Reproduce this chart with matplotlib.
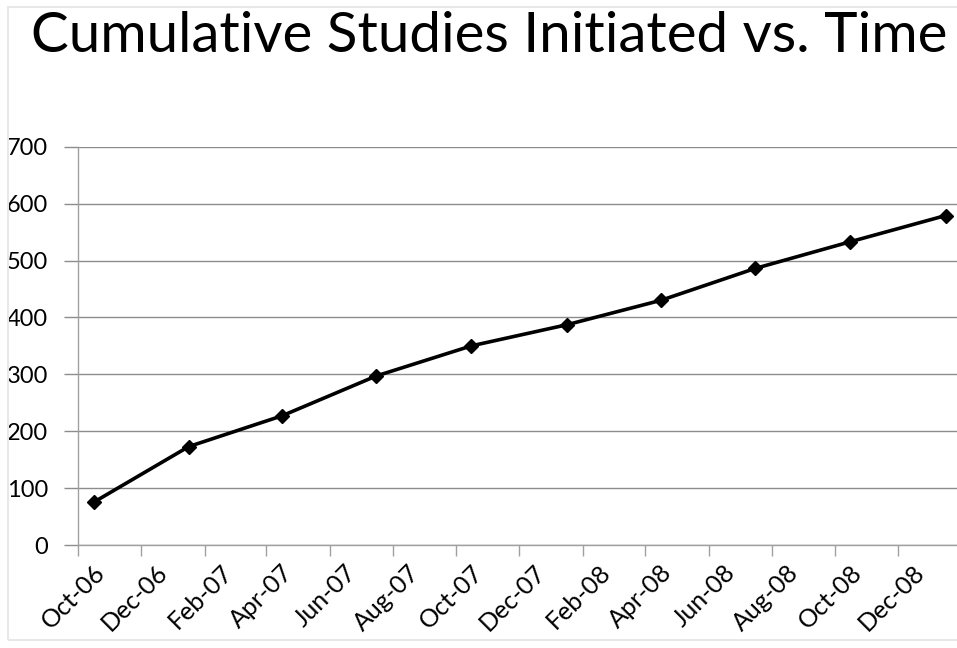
import datetime as dt
import matplotlib
matplotlib.use("Agg")
import matplotlib.pyplot as plt
import matplotlib.dates as mdates
import matplotlib.transforms as mtransforms
from matplotlib.patches import Rectangle

plt.rcParams['font.family'] = ['Lato', 'DejaVu Sans']

# quarterly data points (plotted mid-month, Excel date axis style)
dates = [dt.date(2006, 10, 16), dt.date(2007, 1, 16), dt.date(2007, 4, 16),
         dt.date(2007, 7, 16), dt.date(2007, 10, 16), dt.date(2008, 1, 16),
         dt.date(2008, 4, 16), dt.date(2008, 7, 16), dt.date(2008, 10, 16),
         dt.date(2009, 1, 16)]
studies = [75, 173, 227, 297, 350, 387, 430, 486, 533, 579]

fig = plt.figure(figsize=(9.57, 6.48), dpi=100)
ax = fig.add_axes([78 / 957, 1 - 545 / 648, 1 - 78 / 957, (545 - 146.7) / 648])

ax.plot(dates, studies, color='black', lw=2.6, marker='D', markersize=7.5,
        zorder=3, clip_on=False)

ax.set_ylim(0, 700)
ax.set_yticks(range(0, 701, 100))
ax.set_xlim(dt.date(2006, 10, 1), dt.date(2009, 1, 27))
ax.xaxis.set_major_locator(mdates.MonthLocator(bymonth=[2, 4, 6, 8, 10, 12]))
ax.xaxis.set_major_formatter(mdates.DateFormatter('%b-%y'))

ax.grid(axis='y', color='#8c8c8c', lw=1.0)
ax.set_axisbelow(True)
for s in ['top', 'right']:
    ax.spines[s].set_visible(False)
for s in ['left', 'bottom']:
    ax.spines[s].set_color('#a0a0a0')
    ax.spines[s].set_linewidth(1.0)

ax.tick_params(axis='y', length=10, width=1, color='#8c8c8c', labelsize=17, pad=11.5)
ax.tick_params(axis='x', length=8, width=1, color='#a0a0a0', labelsize=18, pad=4)
shift = mtransforms.ScaledTranslation(23 / 100, -7 / 100, fig.dpi_scale_trans)
for lbl in ax.get_xticklabels():
    lbl.set_rotation(45)
    lbl.set_ha('right')
    lbl.set_va('center')
    lbl.set_rotation_mode('anchor')
    lbl.set_transform(lbl.get_transform() + shift)

fig.text(489 / 957, 1 - 36 / 648, 'Cumulative Studies Initiated vs. Time',
         fontsize=40.7, ha='center', va='center')

# light chart border like the Excel chart area
fig.patches.append(Rectangle((8 / 957, 8 / 648), 1.2, 1 - 15 / 648,
                             transform=fig.transFigure, fill=False,
                             edgecolor='#e8e8e8', lw=1.5))

fig.savefig('out.png', dpi=100)
